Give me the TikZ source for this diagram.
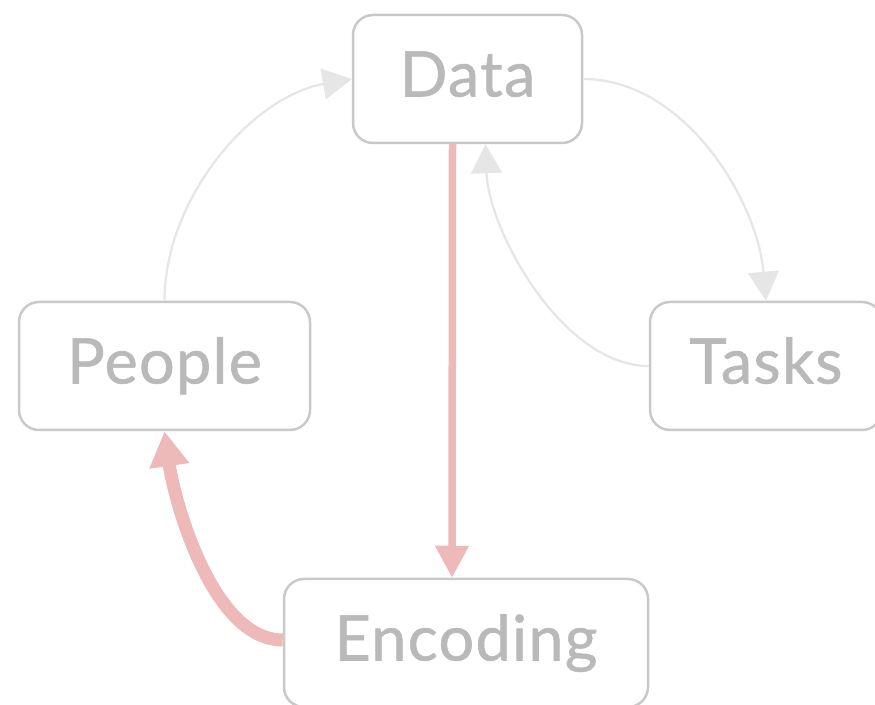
\documentclass[tikz,border=0pt]{standalone}
\usepackage{fontspec}
\setmainfont{Lato}[FakeBold=0.9, LetterSpace=2]
\usetikzlibrary{arrows.meta}
\definecolor{boxline}{HTML}{C9C9C9}
\definecolor{boxtext}{HTML}{B9B9B9}
\definecolor{faint}{HTML}{E6E6E6}
\definecolor{rose}{HTML}{EDB9B9}
\tikzset{
  stage/.style={draw=boxline, line width=2.5pt, rounded corners=20pt,
    text=boxtext, font=\fontsize{63}{63}\selectfont, inner sep=0pt,
    text height=45pt, text depth=10pt, minimum height=128pt},
  faintlink/.style={draw=faint, line width=2.3pt,
    -{Triangle[length=29pt,width=31pt]}},
  roselink/.style={draw=rose, line width=7.5pt,
    -{Triangle[length=32pt,width=32pt]}},
  boldlink/.style={draw=rose, line width=13pt,
    -{Triangle[length=35pt,width=38pt]}}
}
\begin{document}
\begin{tikzpicture}[x=1pt,y=1pt]
  \useasboundingbox (0,0) rectangle (875,704);
  \node[stage, minimum width=229pt] (data)   at (467.5,625) {Data};
  \node[stage, minimum width=291pt] (people) at (164.5,338) {People};
  \node[stage, minimum width=232pt] (tasks)  at (766,338)   {Tasks};
  \node[stage, minimum width=364pt] (enc)    at (466,61)    {Encoding};

  \draw[faintlink] (people.north) to[out=90, in=190, looseness=0.9] (data.west);
  \draw[faintlink] (data.east) to[out=0, in=95, looseness=0.9] (tasks.north);
  \draw[faintlink] (tasks.west) to[out=180, in=-88, looseness=0.8] ([xshift=18pt]data.south);
  \draw[roselink] ([xshift=-15pt]data.south) -- ([xshift=-14pt]enc.north);
  \draw[boldlink] ([yshift=3pt]enc.west) to[out=180, in=-82, looseness=0.75] (people.south);
\end{tikzpicture}
\end{document}
